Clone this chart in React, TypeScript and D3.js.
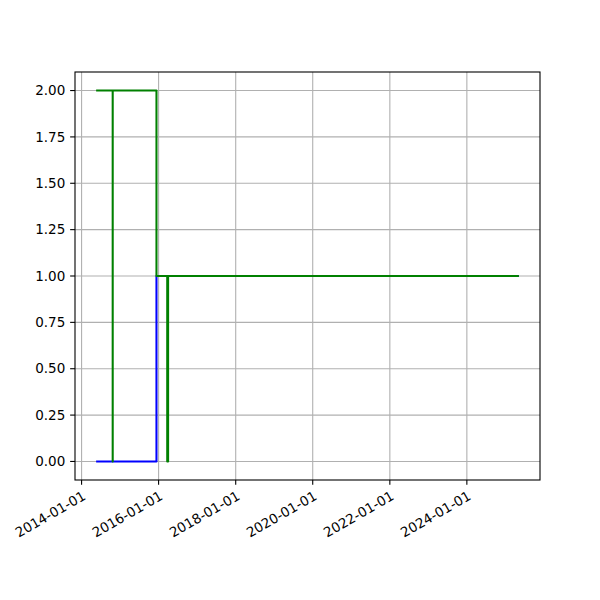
import React from "react";
import * as d3 from "d3";

const blueDates = ["2014-05-19", "2015-12-12", "2015-12-12", "2025-05-08"];
const blueValues = [0, 0, 1, 1];

const greenDates = [
  "2014-05-19", "2014-10-23", "2014-10-23", "2014-10-23",
  "2015-12-12", "2015-12-12", "2016-03-23", "2016-03-23",
  "2016-03-31", "2016-03-31", "2025-05-08",
];
const greenValues = [2, 2, 0, 2, 2, 1, 1, 0, 0, 1, 1];

const xTickDates = ["2014-01-01", "2016-01-01", "2018-01-01", "2020-01-01", "2022-01-01", "2024-01-01"];
const yTicks = [0, 0.25, 0.5, 0.75, 1.0, 1.25, 1.5, 1.75, 2.0];

const parse = (s: string) => new Date(s + "T00:00:00Z");

export default function App() {
  const W = 600, H = 600;
  const left = 75, right = 540, top = 72, bottom = 480;

  const allDates = [...blueDates, ...greenDates].map(parse);
  const [dmin, dmax] = d3.extent(allDates) as [Date, Date];
  const span = +dmax - +dmin;
  const x = d3
    .scaleUtc()
    .domain([new Date(+dmin - 0.05 * span), new Date(+dmax + 0.05 * span)])
    .range([left, right]);
  const y = d3.scaleLinear().domain([-0.1, 2.1]).range([bottom, top]);

  const line = d3
    .line<[string, number]>()
    .x((d) => x(parse(d[0])))
    .y((d) => y(d[1]));

  const blue = blueDates.map((d, i) => [d, blueValues[i]] as [string, number]);
  const green = greenDates.map((d, i) => [d, greenValues[i]] as [string, number]);

  const font = "DejaVu Sans, sans-serif";
  const fs = 13.5;

  return (
    <svg width={W} height={H} style={{ position: "absolute", left: 0, top: 0 }}>
      <rect x={0} y={0} width={W} height={H} fill="white" />
      {/* grid */}
      {xTickDates.map((t) => (
        <line key={"gx" + t} x1={x(parse(t))} x2={x(parse(t))} y1={top} y2={bottom} stroke="#b0b0b0" strokeWidth={1.1} />
      ))}
      {yTicks.map((t) => (
        <line key={"gy" + t} x1={left} x2={right} y1={y(t)} y2={y(t)} stroke="#b0b0b0" strokeWidth={1.1} />
      ))}
      {/* data */}
      <path d={line(blue) || ""} fill="none" stroke="#0000ff" strokeWidth={2.08} strokeLinejoin="round" />
      <path d={line(green) || ""} fill="none" stroke="#008000" strokeWidth={2.08} strokeLinejoin="round" />
      {/* spines */}
      <rect x={left} y={top} width={right - left} height={bottom - top} fill="none" stroke="black" strokeWidth={1.1} />
      {/* y ticks */}
      {yTicks.map((t) => (
        <g key={"yt" + t}>
          <line x1={left - 4.86} x2={left} y1={y(t)} y2={y(t)} stroke="black" strokeWidth={1.1} />
          <text x={left - 9.7} y={y(t)} dy="0.35em" textAnchor="end" fontFamily={font} fontSize={fs} fill="black">
            {t.toFixed(2)}
          </text>
        </g>
      ))}
      {/* x ticks */}
      {xTickDates.map((t) => {
        const px = x(parse(t));
        return (
          <g key={"xt" + t}>
            <line x1={px} x2={px} y1={bottom} y2={bottom + 4.86} stroke="black" strokeWidth={1.1} />
            <text
              transform={`translate(${px},${bottom + 9.7}) rotate(-30)`}
              textAnchor="end"
              dy="0.76em"
              fontFamily={font}
              fontSize={fs}
              fill="black"
            >
              {t}
            </text>
          </g>
        );
      })}
    </svg>
  );
}
